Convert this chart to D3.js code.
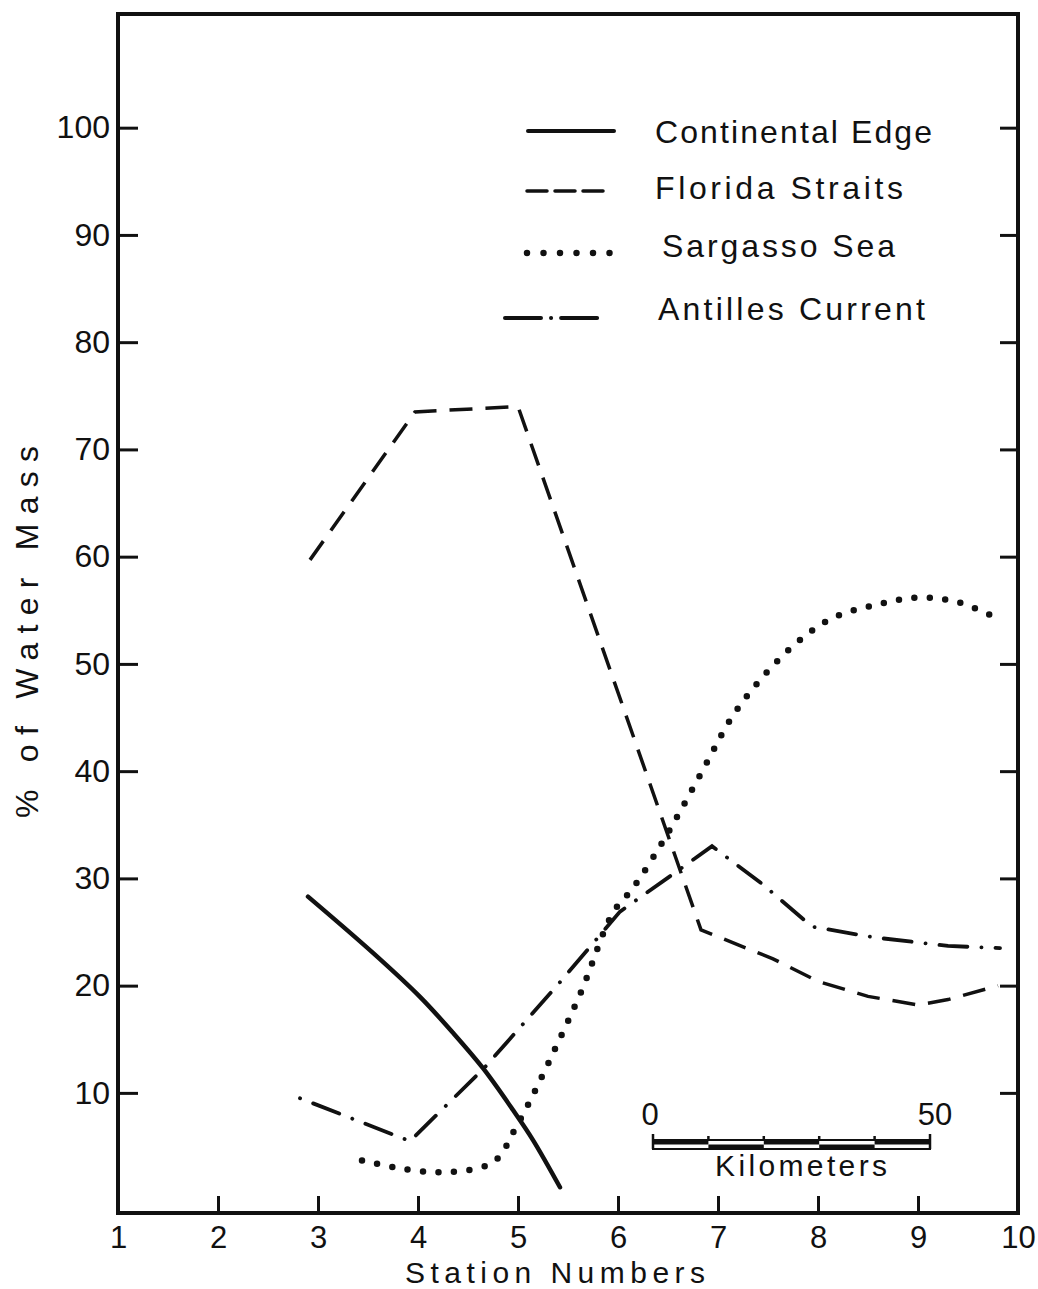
<!DOCTYPE html>
<html><head><meta charset="utf-8">
<script src="https://cdn.jsdelivr.net/npm/d3@7"></script>
<style>body{margin:0;background:#fff}text{font-family:"Liberation Sans",Arial,sans-serif;fill:#111}</style>
</head><body>
<svg id="c" width="1038" height="1289"></svg>
<script>
// ---- data ----
const stationTicks = [1,2,3,4,5,6,7,8,9,10];
const percentTicks = [10,20,30,40,50,60,70,80,90,100];
const seriesNames = ["Continental Edge","Florida Straits","Sargasso Sea","Antilles Current"];

const continentalStation = [2.90,3.55,4.02,4.35,4.65,4.95,5.15,5.42];
const continentalPct     = [28.3,23.05,18.95,15.6,12.3,8.4,5.6,1.2];

const floridaStation = [2.92,3.97,5.0,6.83,7.55,8.0,8.5,9.0,9.3,9.8];
const floridaPct     = [59.7,73.5,74.0,25.2,22.5,20.4,19.0,18.2,18.7,20.0];

const sargassoStation = [3.44,3.80,4.21,4.61,4.77,4.88,4.96,5.09,5.33,5.63,5.95,6.15,6.42,6.66,6.90,7.13,7.43,7.79,8.15,8.58,9.01,9.42,9.85];
const sargassoPct     = [3.7,3.0,2.6,3.0,3.65,5.0,6.45,8.7,13.3,19.4,26.8,29.1,33.0,36.9,41.0,44.9,48.6,52.0,54.3,55.5,56.2,55.7,54.0];

const antillesStation = [2.82,3.92,4.66,5.39,6.02,6.55,6.94,7.44,7.94,8.56,9.3,9.82];
const antillesPct     = [9.5,5.5,12.3,20.0,26.9,30.4,33.0,29.5,25.5,24.5,23.7,23.5];

const kmTicks = [0,10,20,30,40,50];
const kmLabels = [0,50];

// ---- drawing ----
const svg = d3.select("#c");
const x = d3.scaleLinear().domain([1,10]).range([118,1018]);
const y = d3.scaleLinear().domain([-1.2,110.6]).range([1213,14]);

const zip = (a,b)=>a.map((v,i)=>[v,b[i]]);
const line = d3.line().x(d=>x(d[0])).y(d=>y(d[1]));

// frame
svg.append("rect")
  .attr("x", x(1)).attr("y", y(110.6))
  .attr("width", x(10)-x(1)).attr("height", y(-1.2)-y(110.6))
  .attr("fill","none").attr("stroke","#111").attr("stroke-width",4);

// left axis
const gl = svg.append("g").attr("transform",`translate(${x(1)},0)`)
  .call(d3.axisLeft(y).tickValues(percentTicks).tickSizeInner(-20).tickSizeOuter(0).tickPadding(8));
// right axis ticks
const gr = svg.append("g").attr("transform",`translate(${x(10)},0)`)
  .call(d3.axisRight(y).tickValues(percentTicks).tickSizeInner(-18).tickSizeOuter(0).tickFormat(""));
// bottom axis
const gb = svg.append("g").attr("transform",`translate(0,${y(-1.2)})`)
  .call(d3.axisBottom(x).tickValues(stationTicks).tickSizeInner(-17).tickSizeOuter(0).tickPadding(13));
[gl,gr,gb].forEach(g=>{
  g.select(".domain").remove();
  g.selectAll(".tick line").attr("stroke","#111").attr("stroke-width",3);
  g.selectAll(".tick text").attr("font-size",32).attr("fill","#111").attr("font-family",null);
});
gb.selectAll(".tick text").attr("font-size",31);

// axis titles
svg.append("text").attr("x",405).attr("y",1283).attr("font-size",30)
  .attr("textLength",300).attr("lengthAdjust","spacing").text("Station  Numbers");
svg.append("text").attr("transform","translate(38,818) rotate(-90)").attr("font-size",32)
  .attr("textLength",372).attr("lengthAdjust","spacing").text("% of Water Mass");

// series
svg.append("path").datum(zip(continentalStation,continentalPct))
  .attr("d", line.curve(d3.curveCatmullRom)).attr("fill","none")
  .attr("stroke","#111").attr("stroke-width",4.5).attr("stroke-linecap","round");

svg.append("path").datum(zip(floridaStation,floridaPct))
  .attr("d", line.curve(d3.curveLinear)).attr("fill","none")
  .attr("stroke","#111").attr("stroke-width",3.5).attr("stroke-dasharray","23,13");

svg.append("path").datum(zip(sargassoStation,sargassoPct))
  .attr("d", line.curve(d3.curveCatmullRom)).attr("fill","none")
  .attr("stroke","#111").attr("stroke-width",6.5).attr("stroke-linecap","round")
  .attr("stroke-dasharray","0,15.5");

svg.append("path").datum(zip(antillesStation,antillesPct))
  .attr("d", line.curve(d3.curveLinear)).attr("fill","none")
  .attr("stroke","#111").attr("stroke-width",3.8).attr("stroke-linecap","round")
  .attr("stroke-dasharray","0.1,14,28,14");

// legend
const leg = svg.append("g");
const legRows = [
  {sx:[528,614], sy:131, dash:null, w:4, ty:143, tx:655, tl:277},
  {sx:[527,603], sy:191, dash:"20,8", w:3.5, ty:199, tx:655, tl:248},
  {sx:[527,610], sy:253, dash:"0,16.5", w:6.5, ty:257, tx:662, tl:233},
  {sx:[505,598], sy:318, dash:"36,10,0.1,10", w:4, ty:320, tx:658, tl:267}
];
legRows.forEach((r,i)=>{
  leg.append("line").attr("x1",r.sx[0]).attr("x2",r.sx[1]).attr("y1",r.sy).attr("y2",r.sy)
    .attr("stroke","#111").attr("stroke-width",r.w).attr("stroke-linecap","round")
    .attr("stroke-dasharray",r.dash);
  leg.append("text").attr("x",r.tx).attr("y",r.ty).attr("font-size",32)
    .attr("textLength",r.tl).attr("lengthAdjust","spacing").text(seriesNames[i]);
});

// kilometer scale bar
const km = d3.scaleLinear().domain([0,50]).range([653,930]);
const kb = svg.append("g");
kmTicks.slice(0,-1).forEach((t,i)=>{
  const next = kmTicks[i+1];
  kb.append("rect").attr("x",km(t)).attr("width",km(next)-km(t))
    .attr("y", i%2===0 ? 1140 : 1144.5).attr("height",4.5).attr("fill","#111");
});
kb.append("rect").attr("x",km(0)).attr("y",1140).attr("width",km(50)-km(0)).attr("height",9)
  .attr("fill","none").attr("stroke","#111").attr("stroke-width",2);
kb.selectAll("line.kt").data(kmTicks).join("line").attr("class","kt")
  .attr("x1",d=>km(d)).attr("x2",d=>km(d))
  .attr("y1",d=>(d===0||d===50)?1134:1136).attr("y2",d=>(d===0||d===50)?1149:1141)
  .attr("stroke","#111").attr("stroke-width",2.5);
kb.selectAll("text.kl").data(kmLabels).join("text").attr("class","kl")
  .attr("x",d=>km(d)+(d===0?-3:5)).attr("y",1125).attr("text-anchor","middle")
  .attr("font-size",31).text(d=>d);
kb.append("text").attr("x",715).attr("y",1176).attr("font-size",30)
  .attr("textLength",172).attr("lengthAdjust","spacing").text("Kilometers");
</script>
</body></html>
